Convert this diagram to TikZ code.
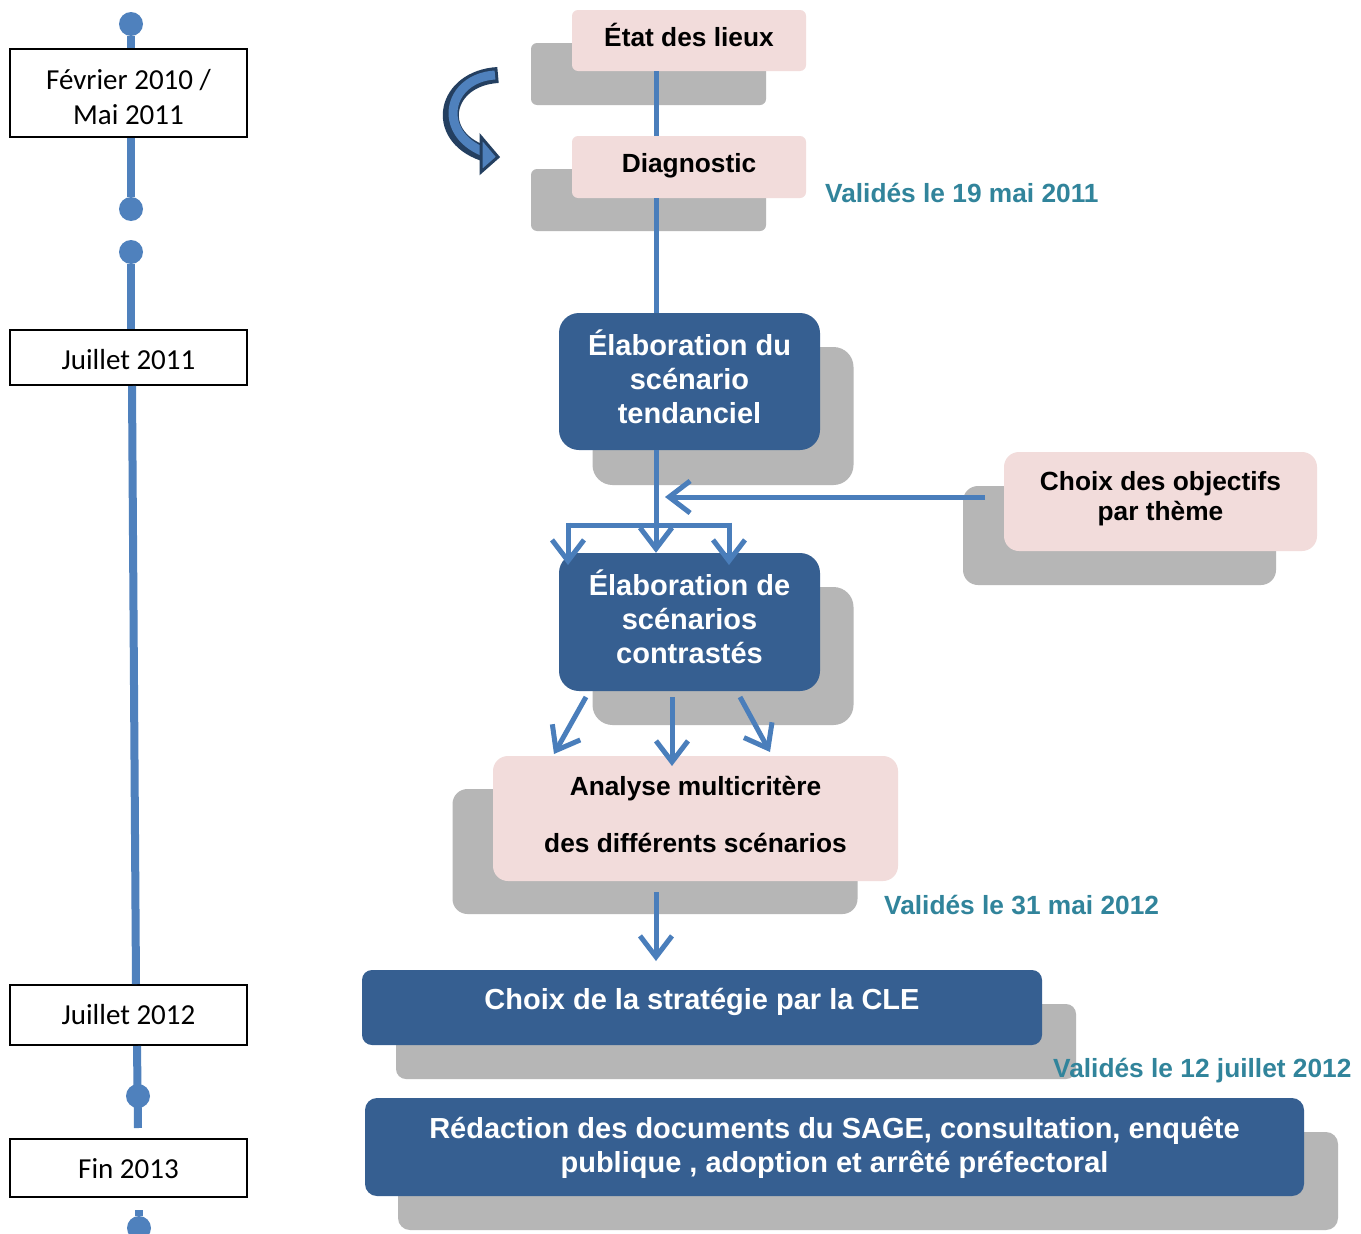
\documentclass[tikz,border=0pt]{standalone}
\usepackage{fontspec}
\setmainfont{Liberation Sans}
\newfontfamily\calfont{Carlito}
\usetikzlibrary{arrows.meta,calc}
\definecolor{dblue}{RGB}{54,95,145}
\definecolor{pinkfill}{RGB}{242,220,219}
\definecolor{shadowgray}{RGB}{182,182,182}
\definecolor{lineblue}{RGB}{74,126,187}
\definecolor{tlblue}{RGB}{79,129,189}
\definecolor{valtext}{RGB}{49,132,155}
\definecolor{arrdark}{RGB}{36,63,96}
\newcommand{\fpink}{\fontsize{26.3}{30}\selectfont\bfseries}
\newcommand{\fblue}{\fontsize{29}{34}\selectfont\bfseries}
\newcommand{\fdate}{\fontsize{29}{35}\selectfont\calfont}
\tikzset{
  box/.style={inner sep=0pt, align=center},
  pinkbox/.style={box, fill=pinkfill},
  shadowbox/.style={box, fill=shadowgray},
  bluebox/.style={box, fill=dblue},
  pinktext/.style={inner sep=0pt, align=center, text=black, font=\fpink},
  bluetext/.style={inner sep=0pt, align=center, text=white, font=\fblue},
  datebox/.style={box, draw=black, line width=2pt, fill=white, minimum width=237pt},
  datetext/.style={inner sep=0pt, align=center, font=\fdate},
  tl/.style={line width=8pt, draw=tlblue},
  tldot/.style={circle, fill=tlblue, minimum size=24pt, inner sep=0pt},
  conn/.style={line width=5pt, draw=lineblue},
  arr/.style={conn, -{Straight Barb[length=21pt,width=32pt]}},
  valnote/.style={anchor=west, inner sep=0pt, text=valtext, font=\fpink},
}
\begin{document}
\begin{tikzpicture}[x=1pt,y=-1pt]
\useasboundingbox (0,0) rectangle (1361,1234);
\clip (0,0) rectangle (1361,1234);
\fill[white] (0,0) rectangle (1361,1234);

% ---------- timeline ----------
\node[tldot] (d1) at (131,24) {};
\node[datebox, minimum height=88pt] (feb) at (128.5,93) {};
\node[datetext] (febT) at ($(feb.center)+(0,4)$) {Février 2010 /\\Mai 2011};
\node[tldot] (d2) at (131,209) {};
\node[tldot] (d3) at (131,252) {};
\node[datebox, minimum height=55pt] (jul11) at (128.5,357.5) {};
\node[datetext] (jul11T) at ($(jul11.center)+(0,2)$) {Juillet 2011};
\node[datebox, minimum height=60pt] (jul12) at (128.5,1015) {};
\node[datetext] (jul12T) at (jul12.center) {Juillet 2012};
\node[datebox, minimum height=58pt] (fin) at (128.5,1168) {};
\node[datetext] (finT) at ($(fin.center)+(0,1)$) {Fin 2013};
\coordinate (a1) at (132,386);
\coordinate (a2) at (136,984);
\coordinate (b1) at (137,1046);
\coordinate (b2) at (138,1128);
\coordinate (c1) at (139,1210);
\draw[tl] (d1) -- (d1 |- feb.north);
\draw[tl] (d2 |- feb.south) -- (d2);
\draw[tl] (d3) -- (d3 |- jul11.north);
\draw[tl] (a1) -- (a2);
\draw[tl] (b1) -- (b2);
\node[tldot] (d4) at (138,1096) {};
\node[tldot] (d5) at (139,1228) {};
\draw[tl] (c1) -- (d5);

% ---------- shadows ----------
\node[shadowbox, rounded corners=6pt, minimum width=235pt, minimum height=62pt] (etatS) at (648.5,74) {};
\node[shadowbox, rounded corners=6pt, minimum width=235pt, minimum height=62pt] (diagS) at (648.5,200) {};
\node[shadowbox, rounded corners=20pt, minimum width=261pt, minimum height=138pt] (tendS) at (723,416) {};
\node[shadowbox, rounded corners=15pt, minimum width=313pt, minimum height=99pt] (objS) at (1119.5,535.5) {};
\node[shadowbox, rounded corners=20pt, minimum width=261pt, minimum height=138pt] (contrS) at (723,656) {};
\node[shadowbox, rounded corners=15pt, minimum width=405pt, minimum height=125pt] (anaS) at (655,851.5) {};
\node[shadowbox, rounded corners=10pt, minimum width=680pt, minimum height=75pt] (stratS) at (736,1041.5) {};
\node[shadowbox, rounded corners=12pt, minimum width=940pt, minimum height=98pt] (redacS) at (868,1181) {};

% ---------- boxes ----------
\node[pinkbox, rounded corners=6pt, minimum width=234pt, minimum height=61pt] (etat) at (689,40.5) {};
\node[pinktext] (etatT) at ($(etat.center)+(0,-5.5)$) {État des lieux};
\node[pinkbox, rounded corners=6pt, minimum width=234pt, minimum height=62pt] (diag) at (689,167) {};
\node[pinktext] (diagT) at ($(diag.center)+(0,-1.5)$) {Diagnostic};
\node[bluebox, rounded corners=20pt, minimum width=261pt, minimum height=137pt] (tend) at (689.5,381.5) {};
\node[bluetext] (tendT) at ($(tend.center)+(0,-5)$) {Élaboration du\\scénario\\tendanciel};
\node[pinkbox, rounded corners=15pt, minimum width=313pt, minimum height=99pt] (obj) at (1160.5,501.5) {};
\node[pinktext] (objT) at ($(obj.center)+(0,-3)$) {Choix des objectifs\\par thème};
\node[bluebox, rounded corners=20pt, minimum width=261pt, minimum height=138pt] (contr) at (689.5,622) {};
\node[bluetext] (contrT) at ($(contr.center)+(0,-5)$) {Élaboration de\\scénarios\\contrastés};
\node[pinkbox, rounded corners=15pt, minimum width=405pt, minimum height=125pt] (ana) at (695.5,818.5) {};
\node[pinktext] (anaT) at ($(ana.center)+(0,-4)$) {Analyse multicritère\\[27pt]des différents scénarios};
\node[bluebox, rounded corners=10pt, minimum width=680pt, minimum height=75pt] (strat) at (702,1007.5) {};
\node[bluetext] (stratT) at ($(strat.center)+(0,-6)$) {Choix de la stratégie par la CLE};
\node[bluebox, rounded corners=12pt, minimum width=939pt, minimum height=98pt] (redac) at (834.5,1147) {};
\node[bluetext] (redacT) at ($(redac.center)+(0,1)$) {Rédaction des documents du SAGE, consultation, enquête\\publique , adoption et arrêté préfectoral};

% ---------- validation notes ----------
\node[valnote] (v1) at (825,193) {Validés le 19 mai 2011};
\node[valnote] (v2) at (884,905) {Validés le 31 mai 2012};
\node[valnote] (v3) at (1053,1071) {Validés le 12 juillet 2012};

% ---------- connectors ----------
\coordinate (col) at (656,0);
\draw[conn] (etat.south -| col) -- (diag.north -| col);
\draw[conn] (diag.south -| col) -- (tend.north -| col);
\coordinate (brL) at (568,525);
\coordinate (brR) at (729,525);
\draw[arr] (tend.south -| col) -- (contr.north -| col);
\draw[conn] (brL) -- (brR);
\draw[arr] ($(brL)+(0,-2.5)$) -- ($(brL)+(0,40)$);
\draw[arr] ($(brR)+(0,-2.5)$) -- ($(brR)+(0,40)$);
\coordinate (objL) at (985,497);
\coordinate (objE) at (665,497);
\draw[arr] (objL) -- (objE);
\coordinate (c1s) at (586,697);
\coordinate (c1e) at (554,754);
\coordinate (c2s) at (672,697);
\coordinate (c2e) at (672,766);
\coordinate (c3s) at (740,697);
\coordinate (c3e) at (770,752);
\draw[arr] (c1s) -- (c1e);
\draw[arr] (c2s) -- (c2e);
\draw[arr] (c3s) -- (c3e);
\coordinate (as) at (656,892);
\coordinate (ae) at (656,961);
\draw[arr] (as) -- (ae);

% ---------- curved arrow ----------
\coordinate (cvS) at (498,75);
\coordinate (cvE) at (483,153);
\draw[arrdark, line width=16pt] (cvS) .. controls (445,78) and (432,135) .. (cvE);
\draw[tlblue, line width=9pt] ($(cvS)+(-3,0)$) .. controls (447,78) and (436,133) .. ($(cvE)+(1,-1)$);
\filldraw[fill=tlblue, draw=arrdark, line width=3pt, line join=miter] (481,137) -- (498,157) -- (481,172) -- cycle;
\end{tikzpicture}
\end{document}
